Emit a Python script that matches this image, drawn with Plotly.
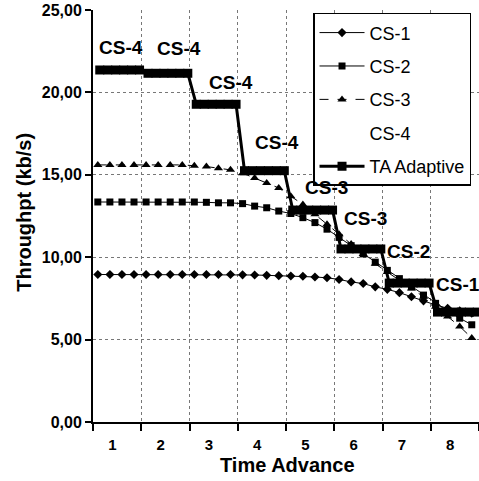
import plotly.graph_objects as go

# ---- data ----
time_labels = ["1", "2", "3", "4", "5", "6", "7", "8"]
time_ticks = [1, 2, 3, 4, 5, 6, 7, 8]

cs_x = [0.6, 0.85, 1.1, 1.35, 1.6, 1.85, 2.1, 2.35, 2.6, 2.85, 3.1, 3.35, 3.6, 3.85, 4.1, 4.35,
        4.6, 4.85, 5.1, 5.35, 5.6, 5.85, 6.1, 6.35, 6.6, 6.85, 7.1, 7.35, 7.6, 7.85, 8.1, 8.35]

cs1 = [8.95, 8.95, 8.95, 8.95, 8.95, 8.95, 8.95, 8.95, 8.95, 8.95, 8.95, 8.95,
       8.93, 8.92, 8.90, 8.88, 8.86, 8.84,
       8.80, 8.75, 8.65, 8.50, 8.40, 8.20, 8.05, 7.85, 7.60, 7.35, 7.10, 6.90, 6.75, 6.60]

cs2 = [13.35, 13.35, 13.35, 13.35, 13.35, 13.35, 13.35, 13.35, 13.35, 13.33, 13.30, 13.30,
       13.25, 13.10, 13.00, 12.80, 12.65, 12.40, 12.10, 11.70, 11.20, 10.70, 10.20, 9.70,
       9.20, 8.70, 8.20, 7.70, 7.20, 6.75, 6.30, 5.90]

cs3 = [15.60, 15.60, 15.60, 15.60, 15.60, 15.60, 15.60, 15.60, 15.55, 15.50, 15.40, 15.30,
       15.10, 14.80, 14.50, 14.20, 13.70, 13.20, 12.60, 12.00, 11.40, 10.80, 10.20, 9.60,
       9.10, 8.60, 8.10, 7.60, 7.00, 6.40, 5.80, 5.10]

ta_x = [0.64, 0.805, 0.97, 1.135, 1.30, 1.465,
        1.64, 1.805, 1.97, 2.135, 2.30, 2.465,
        2.64, 2.805, 2.97, 3.135, 3.30, 3.465,
        3.64, 3.805, 3.97, 4.135, 4.30, 4.465,
        4.64, 4.805, 4.97, 5.135, 5.30, 5.465,
        5.64, 5.805, 5.97, 6.135, 6.30, 6.465,
        6.64, 6.805, 6.97, 7.135, 7.30, 7.465,
        7.64, 7.805, 7.97, 8.135, 8.30, 8.465]

ta_y = [21.36, 21.36, 21.36, 21.36, 21.36, 21.36,
        21.16, 21.16, 21.16, 21.16, 21.16, 21.16,
        19.28, 19.28, 19.28, 19.28, 19.28, 19.28,
        15.25, 15.25, 15.25, 15.25, 15.25, 15.25,
        12.86, 12.86, 12.86, 12.86, 12.86, 12.86,
        10.50, 10.50, 10.50, 10.50, 10.50, 10.50,
        8.43, 8.43, 8.43, 8.43, 8.43, 8.43,
        6.67, 6.67, 6.67, 6.67, 6.67, 6.67]

ta_labels = ["CS-4", "CS-4", "CS-4", "CS-4", "CS-3", "CS-3", "CS-2", "CS-1"]

# ---- style ----
FONT = "Liberation Sans, Arial, sans-serif"
label_xshift = [4, 14, 17, 15, 16, 7, 2, 3]
label_yshift = [22, 25, 22, 28, 23, 30, 32, 28]
tick_label_offset = -0.1

fig = go.Figure()

fig.add_trace(go.Scatter(x=cs_x, y=cs1, name="CS-1", mode="lines+markers", legendgroup="a",
                         line=dict(color="black", width=1),
                         marker=dict(symbol="diamond", size=7, color="black")))
fig.add_trace(go.Scatter(x=cs_x, y=cs2, name="CS-2", mode="lines+markers", legendgroup="b",
                         line=dict(color="black", width=1),
                         marker=dict(symbol="square", size=7, color="black")))
fig.add_trace(go.Scatter(x=cs_x, y=cs3, name="CS-3", mode="lines+markers", legendgroup="c",
                         line=dict(color="black", width=1, dash="dash"),
                         marker=dict(symbol="triangle-up", size=8, color="black")))
fig.add_trace(go.Scatter(x=[None], y=[None], name="CS-4", mode="lines", legendgroup="d",
                         line=dict(color="rgba(0,0,0,0)", width=1)))
fig.add_trace(go.Scatter(x=ta_x, y=ta_y, name="TA Adaptive", mode="lines+markers", legendgroup="e",
                         line=dict(color="black", width=3),
                         marker=dict(symbol="square", size=9, color="black")))

for k, txt in enumerate(ta_labels):
    fig.add_annotation(x=time_ticks[k], y=ta_y[6 * k], text=txt, showarrow=False,
                       xshift=label_xshift[k], yshift=label_yshift[k],
                       font=dict(family=FONT, size=19, color="black", weight="bold"))

fig.add_annotation(xref="paper", yref="paper", x=0.505, y=-0.105, text="Time Advance",
                   showarrow=False, xanchor="center", yanchor="middle",
                   font=dict(family=FONT, size=20, color="black", weight="bold"))
fig.add_annotation(xref="paper", yref="paper", x=-0.179, y=0.51, text="Throughpt (kb/s)",
                   showarrow=False, textangle=-90, xanchor="center", yanchor="middle",
                   font=dict(family=FONT, size=20, color="black", weight="bold"))

fig.update_layout(
    width=479, height=481,
    margin=dict(l=93, r=0, t=10, b=59, autoexpand=False),
    paper_bgcolor="white", plot_bgcolor="white",
    separators=",.",
    showlegend=True,
    legend=dict(x=0.57, y=0.993, xanchor="left", yanchor="top",
                bgcolor="white", bordercolor="black", borderwidth=1.5,
                font=dict(family=FONT, size=18, color="black"),
                tracegroupgap=7, itemwidth=45),
    font=dict(family=FONT, color="black"),
)

fig.update_xaxes(range=[0.5, 8.5], tickmode="array",
                 tickvals=[t + tick_label_offset for t in time_ticks], ticktext=time_labels,
                 ticks="", showgrid=False, zeroline=False,
                 showline=True, linecolor="black", linewidth=2,
                 ticklabelstandoff=8,
                 tickfont=dict(family=FONT, size=15, color="black", weight="bold"),
                 minor=dict(tick0=0.5, dtick=1, ticks="outside", ticklen=7, tickwidth=2,
                            tickcolor="black", showgrid=True, gridcolor="#777777",
                            griddash="dot", gridwidth=1))
fig.update_yaxes(range=[0, 25], dtick=5, tick0=0, tickformat=".2f",
                 ticks="outside", ticklen=6, tickwidth=2, tickcolor="black",
                 showgrid=True, gridcolor="#777777", griddash="dot", gridwidth=1,
                 zeroline=False, showline=True, linecolor="black", linewidth=2,
                 tickfont=dict(family=FONT, size=16, color="black", weight="bold"))

fig.write_html("out.html", config={"displayModeBar": False},
               post_script="document.body.style.margin='0px';")
